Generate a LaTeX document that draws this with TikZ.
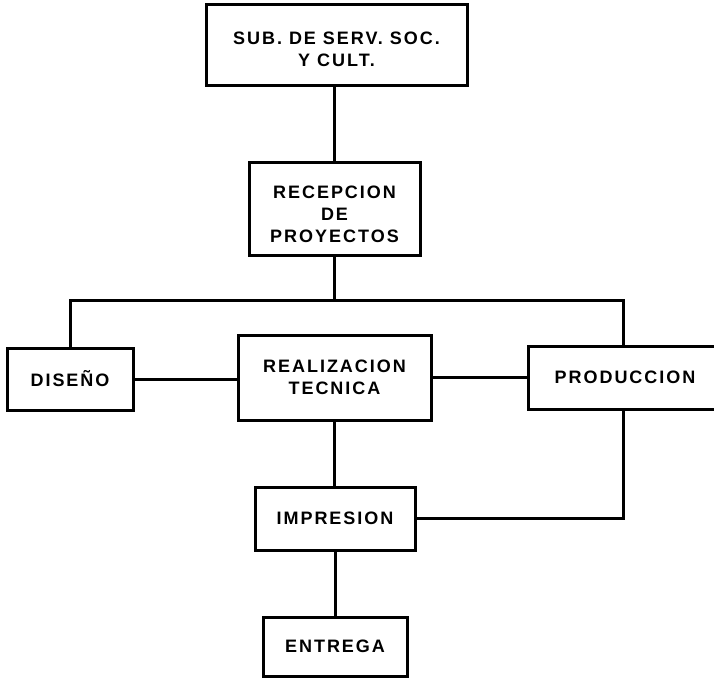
\documentclass[tikz,border=0pt]{standalone}
\usepackage{fontspec}
\setmainfont{Liberation Sans}[LetterSpace=11]
\begin{document}
\begin{tikzpicture}[x=1pt,y=-1pt,
  box/.style={draw=black, line width=3pt, inner sep=0pt, align=center,
    font=\fontsize{18}{22}\selectfont\bfseries},
  conn/.style={line width=3pt}]
\useasboundingbox (0,0) rectangle (714,679);
\node[box, minimum width=261pt, minimum height=81pt] (sub) at (336.5,45.5) {\rule{0pt}{21pt}SUB. DE SERV. SOC.\\Y CULT.};
\node[box, minimum width=171pt, minimum height=92pt] (rec) at (334.5,209) {\rule{0pt}{24pt}RECEPCION\\DE\\PROYECTOS};
\node[box, minimum width=126pt, minimum height=62pt] (dis) at (70,379) {DISEÑO};
\node[box, minimum width=193pt, minimum height=85pt] (rea) at (334.5,377.5) {REALIZACION\\TECNICA};
\node[box, minimum width=194pt, minimum height=63pt] (pro) at (625,377.5) {PRODUCCION};
\node[box, minimum width=160pt, minimum height=63pt] (imp) at (335,518.5) {IMPRESION};
\node[box, minimum width=144pt, minimum height=59pt] (ent) at (335,646.5) {ENTREGA};
\coordinate (busL) at (70,300);
\coordinate (busR) at (623,300);
\draw[conn] (rec.north) -- (rec.north |- sub.south);
\draw[conn] (rec.south) -- (rec.south |- busL);
\draw[conn] (dis.north) -- (busL) -- (busR) -- (busR |- pro.north);
\draw[conn] (dis.east) -- (dis.east -| rea.west);
\draw[conn] (rea.east) -- (rea.east -| pro.west);
\draw[conn] (rea.south) -- (rea.south |- imp.north);
\draw[conn] (busR |- pro.south) -- (busR |- imp.east) -- (imp.east);
\draw[conn] (imp.south) -- (imp.south |- ent.north);
\end{tikzpicture}
\end{document}
